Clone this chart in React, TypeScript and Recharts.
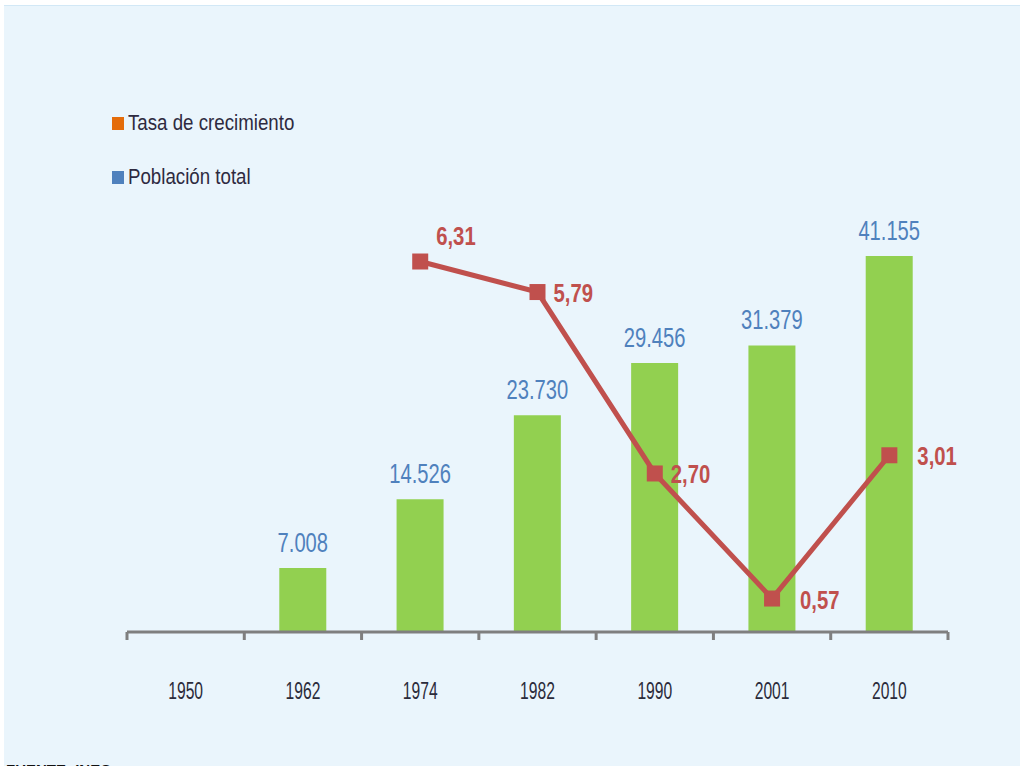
import { ComposedChart, Bar, Line, XAxis, YAxis, LabelList } from 'recharts'

const years = ['1950', '1962', '1974', '1982', '1990', '2001', '2010']
const poblacion = [null, 7008, 14526, 23730, 29456, 31379, 41155]
const tasa = [null, null, 6.31, 5.79, 2.7, 0.57, 3.01]

const legendItems = [
  { label: 'Tasa de crecimiento', color: '#E46C0A' },
  { label: 'Población total', color: '#4F81BD' },
]

const data = years.map((y, i) => ({ year: y, poblacion: poblacion[i], tasa: tasa[i] }))

const W = 1020
const H = 766
const margin = { top: 221, right: 72, bottom: 104, left: 127 }
const band = (W - margin.left - margin.right) / years.length
const font = "'Liberation Sans', Arial, sans-serif"

const fmtPob = (v: number) => String(v).replace(/\B(?=(\d{3})+(?!\d))/g, '.')
const fmtTasa = (v: number) => v.toFixed(2).replace('.', ',')

function YearTick(props: any) {
  const { x, y, payload, index } = props
  const last = index === years.length - 1
  return (
    <g>
      <line x1={x - band / 2} x2={x - band / 2} y1={y} y2={y + 8} stroke="#7f7f7f" strokeWidth={3} />
      {last && <line x1={x + band / 2} x2={x + band / 2} y1={y} y2={y + 8} stroke="#7f7f7f" strokeWidth={3} />}
      <text
        transform={`translate(${x},${y + 67}) scale(0.68,1)`}
        textAnchor="middle"
        fontSize={23}
        fill="#2b2b3a"
        fontFamily={font}
      >
        {payload.value}
      </text>
    </g>
  )
}

function SquareDot(props: any) {
  const { cx, cy } = props
  if (cy == null || isNaN(cy)) return <g key={props.index} />
  return <rect key={props.index} x={cx - 8} y={cy - 8} width={16} height={16} fill="#C0504D" />
}

function PobLabel(props: any) {
  const { x, y, width, value } = props
  if (value == null) return null
  return (
    <text
      transform={`translate(${x + width / 2},${y - 16}) scale(0.72,1)`}
      textAnchor="middle"
      fontSize={28}
      fill="#4F81BD"
      fontFamily={font}
    >
      {fmtPob(value)}
    </text>
  )
}

function TasaLabel(props: any) {
  const { x, y, value, index } = props
  if (value == null) return null
  const above = index === 2
  const dx = index >= 5 ? 28 : 16
  return (
    <text
      transform={`translate(${x + dx},${above ? y - 17 : y + 10}) scale(0.78,1)`}
      fontSize={26}
      fontWeight="bold"
      fill="#C0504D"
      fontFamily={font}
    >
      {fmtTasa(value)}
    </text>
  )
}

export default function App() {
  return (
    <div style={{ position: 'absolute', left: 0, top: 0, width: W, height: H, overflow: 'hidden', background: '#fff' }}>
      <div
        style={{
          position: 'absolute',
          left: 4,
          top: 5,
          width: W - 4,
          height: H - 5,
          background: '#EAF5FC',
          borderTop: '1px solid #d2e8f6',
        }}
      />
      <div style={{ position: 'absolute', left: 0, top: 0 }}>
        <ComposedChart width={W} height={H} data={data} margin={margin}>
          <XAxis
            dataKey="year"
            axisLine={{ stroke: '#7f7f7f', strokeWidth: 3 }}
            tickLine={false}
            tickSize={0}
            tickMargin={0}
            tick={<YearTick />}
            interval={0}
          />
          <YAxis yAxisId="pob" hide domain={[0, 45000]} />
          <YAxis yAxisId="tasa" hide orientation="right" domain={[0, 7]} />
          <Bar yAxisId="pob" dataKey="poblacion" fill="#92D050" barSize={47} isAnimationActive={false}>
            <LabelList dataKey="poblacion" content={<PobLabel />} />
          </Bar>
          <Line
            yAxisId="tasa"
            dataKey="tasa"
            stroke="#C0504D"
            strokeWidth={5}
            dot={<SquareDot />}
            activeDot={false}
            isAnimationActive={false}
          >
            <LabelList dataKey="tasa" content={<TasaLabel />} />
          </Line>
        </ComposedChart>
      </div>
      <div
        style={{
          position: 'absolute',
          left: 112,
          top: 110,
          fontFamily: font,
          fontSize: 22,
          color: '#2e2a40',
        }}
      >
        {legendItems.map((it) => (
          <div key={it.label} style={{ display: 'flex', alignItems: 'center', height: 26, marginBottom: 28 }}>
            <span style={{ width: 12, height: 13, background: it.color, marginRight: 4, display: 'inline-block', flex: 'none' }} />
            <span style={{ display: 'inline-block', transform: 'scaleX(0.85)', transformOrigin: 'left center', whiteSpace: 'nowrap' }}>
              {it.label}
            </span>
          </div>
        ))}
      </div>
      <div
        style={{
          position: 'absolute',
          left: 6,
          top: 761,
          fontFamily: font,
          fontWeight: 'bold',
          fontSize: 15,
          color: '#111',
        }}
      >
        FUENTE: INEC
      </div>
    </div>
  )
}
